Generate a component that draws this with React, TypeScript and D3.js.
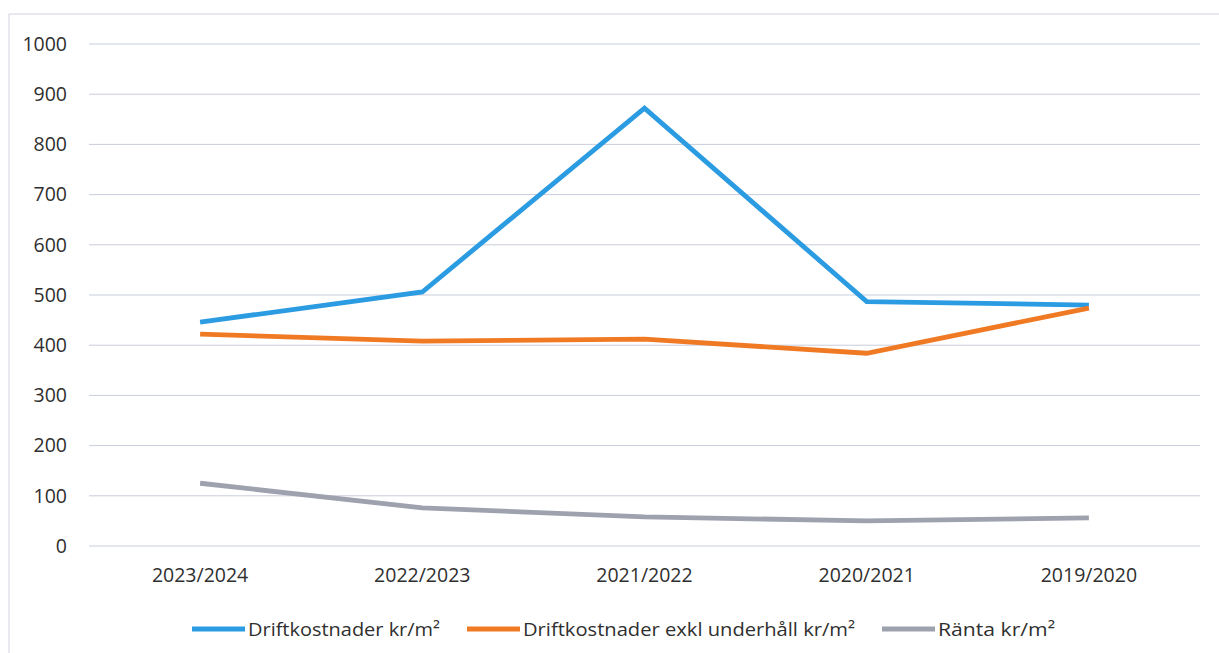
import React from "react";
import * as d3 from "d3";

const categories = ["2023/2024", "2022/2023", "2021/2022", "2020/2021", "2019/2020"];
const driftkostnader = [446, 506, 872, 487, 480];
const driftExklUnderhall = [422, 408, 412, 384, 474];
const ranta = [125, 76, 58, 50, 56];
const yTicks = [0, 100, 200, 300, 400, 500, 600, 700, 800, 900, 1000];

const seriesNames = [
  "Driftkostnader kr/m²",
  "Driftkostnader exkl underhåll kr/m²",
  "Ränta kr/m²",
];

const colors = ["#2b9be2", "#f07a24", "#9ea2ae"];

const W = 1219;
const H = 653;
const font = "'Open Sans', Lato, sans-serif";

export default function App() {
  const x = d3.scaleBand().domain(categories).range([89, 1200]).padding(0);
  const y = d3.scaleLinear().domain([0, 1000]).range([546, 44]);

  const line = d3
    .line<number>()
    .x((_, i) => (x(categories[i]) as number) + x.bandwidth() / 2)
    .y((d) => y(d));

  const series = [driftkostnader, driftExklUnderhall, ranta];
  // legend layout: start x and text width of each entry
  const legendX = [192, 467, 882];
  const legendW = [192, 332, 117];

  return (
    <div style={{ position: "absolute", left: 0, top: 0 }}>
      <svg width={W} height={H} style={{ display: "block", background: "#fff" }}>
        {/* outer chart border */}
        <path d="M9,653 L9,14 L1219,14" fill="none" stroke="#cfd3dd" strokeWidth={1} />

        {/* gridlines */}
        {yTicks.map((t) => (
          <line
            key={t}
            x1={89}
            x2={1200}
            y1={y(t)}
            y2={y(t)}
            stroke="#c9cddb"
            strokeWidth={1}
          />
        ))}

        {/* y tick labels */}
        {yTicks.map((t) => (
          <text
            key={"l" + t}
            x={67}
            y={y(t)}
            dy="0.35em"
            textAnchor="end"
            fontFamily={font}
            fontSize={19.5}
            fill="#2f2f2f"
          >
            {t}
          </text>
        ))}

        {/* x labels */}
        {categories.map((c) => (
          <text
            key={c}
            x={(x(c) as number) + x.bandwidth() / 2}
            y={575}
            dy="0.35em"
            textAnchor="middle"
            fontFamily={font}
            fontSize={19.5}
            fill="#2f2f2f"
          >
            {c}
          </text>
        ))}

        {/* series lines */}
        {series.map((s, i) => (
          <path
            key={seriesNames[i]}
            d={line(s) ?? ""}
            fill="none"
            stroke={colors[i]}
            strokeWidth={4.8}
            strokeLinejoin="miter"
          />
        ))}

        {/* legend */}
        {seriesNames.map((n, i) => (
          <g key={n} transform={`translate(${legendX[i]},629)`}>
            <line x1={0} x2={53} y1={0} y2={0} stroke={colors[i]} strokeWidth={5} />
            <text
              x={56}
              y={0}
              dy="0.35em"
              fontFamily={font}
              fontSize={19}
              textLength={legendW[i]}
              lengthAdjust="spacingAndGlyphs"
              fill="#2f2f2f"
            >
              {n}
            </text>
          </g>
        ))}
      </svg>
    </div>
  );
}
